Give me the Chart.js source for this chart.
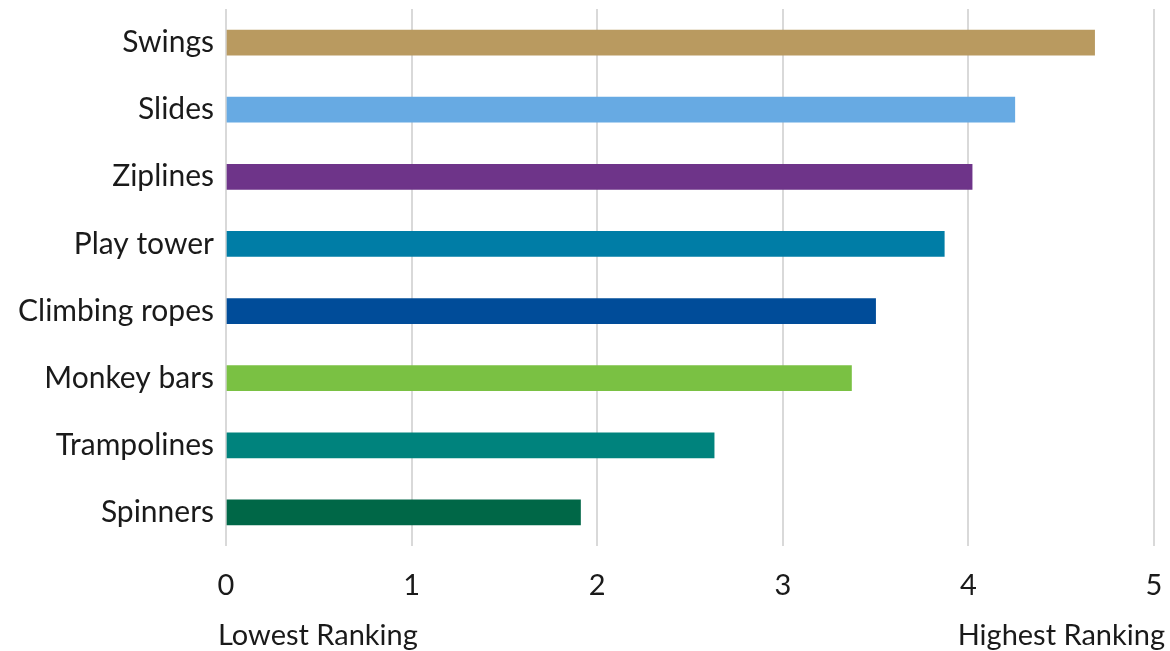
<!DOCTYPE html>
<html>
<head>
<meta charset="utf-8">
<script src="https://cdn.jsdelivr.net/npm/chart.js@4/dist/chart.umd.min.js"></script>
<style>
  html, body { margin: 0; padding: 0; background: #fff; }
  #wrap { position: relative; width: 1170px; height: 651px; }
</style>
</head>
<body>
<div id="wrap"><canvas id="chart"></canvas></div>
<script>
const categories = ["Swings", "Slides", "Ziplines", "Play tower", "Climbing ropes", "Monkey bars", "Trampolines", "Spinners"];
const rankings = [4.68, 4.25, 4.02, 3.87, 3.50, 3.37, 2.63, 1.91];
const barColors = ["#B99A60", "#67AAE3", "#6E3489", "#007DA6", "#004C99", "#7AC143", "#00837D", "#006747"];
const xTicks = [0, 1, 2, 3, 4, 5];
const lowLabel = "Lowest Ranking";
const highLabel = "Highest Ranking";

const fontFamily = "Lato, 'Open Sans', sans-serif";
const textColor = "#1a1a1a";

// draws the two labels under the x axis, one at each end
const endLabels = {
  id: "endLabels",
  afterDraw(chart) {
    const { ctx, chartArea } = chart;
    ctx.save();
    ctx.font = "29px " + fontFamily;
    ctx.fillStyle = textColor;
    ctx.textBaseline = "middle";
    ctx.textAlign = "left";
    ctx.fillText(lowLabel, chartArea.left - 8, 636);
    ctx.textAlign = "right";
    ctx.fillText(highLabel, chartArea.right + 11, 636);
    ctx.restore();
  },
};

const ctx = document.getElementById("chart").getContext("2d");
const chart = new Chart(ctx, {
  type: "bar",
  data: {
    labels: categories,
    datasets: [
      {
        data: rankings,
        backgroundColor: barColors,
        barThickness: 25,
      },
    ],
  },
  options: {
    indexAxis: "y",
    responsive: true,
    maintainAspectRatio: false,
    animation: false,
    layout: { padding: { top: 9, right: 16, bottom: 0, left: 0 } },
    plugins: {
      legend: { display: false },
      tooltip: { enabled: false },
    },
    scales: {
      x: {
        min: 0,
        max: 5,
        afterBuildTicks: (scale) => {
          scale.ticks = xTicks.map((v) => ({ value: v }));
        },
        afterFit: (scale) => {
          scale.height = 105;
          scale.paddingLeft = 0;
          scale.paddingRight = 0;
        },
        grid: { color: "#d9d9d9", lineWidth: 2, drawTicks: false },
        border: { display: false },
        ticks: {
          padding: 22,
          color: textColor,
          font: { family: fontFamily, size: 29 },
        },
      },
      y: {
        afterFit: (scale) => {
          scale.width = 226;
          scale.paddingTop = 0;
          scale.paddingBottom = 0;
        },
        grid: { display: false, drawTicks: false },
        border: { display: false },
        ticks: {
          padding: 12,
          color: textColor,
          font: { family: fontFamily, size: 30 },
        },
      },
    },
  },
  plugins: [endLabels],
});
</script>
</body>
</html>
